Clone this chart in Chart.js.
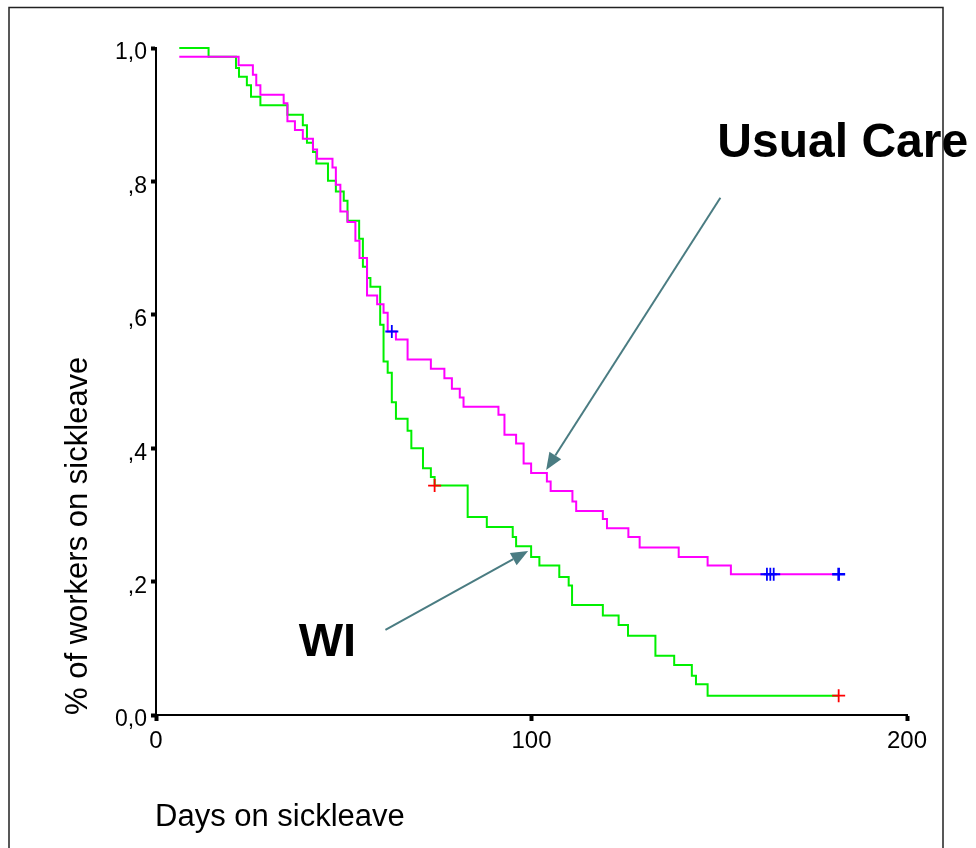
<!DOCTYPE html>
<html>
<head>
<meta charset="utf-8">
<script src="https://cdn.jsdelivr.net/npm/chart.js@4.4.1/dist/chart.umd.min.js"></script>
<style>
html,body{margin:0;padding:0;background:#fff;}
#wrap{position:relative;width:976px;height:848px;}
</style>
</head>
<body>
<div id="wrap"><canvas id="c" width="976" height="848"></canvas></div>
<script>
// Kaplan-Meier steps (day of event, survival after event)
const wiDays = [6.2, 14.0, 21.3, 22.1, 24.2, 25.3, 27.8, 35.0, 39.1, 40.2, 41.8, 42.7, 45.8, 47.9, 50.0, 51.0, 54.1, 55.1, 56.2, 57.1, 59.7, 60.6, 61.7, 62.8, 63.9, 67.0, 68.0, 71.1, 73.2, 74.2, 83.0, 88.1, 95.0, 95.9, 99.9, 102.1, 107.4, 109.9, 110.8, 119.0, 123.2, 125.7, 133.0, 138.0, 142.7, 143.8, 146.9, 181.8];
const wiSurv = [1.000, 0.987, 0.970, 0.957, 0.944, 0.927, 0.914, 0.900, 0.884, 0.858, 0.844, 0.827, 0.801, 0.785, 0.771, 0.741, 0.714, 0.672, 0.655, 0.642, 0.585, 0.530, 0.513, 0.469, 0.444, 0.426, 0.400, 0.370, 0.357, 0.344, 0.297, 0.282, 0.267, 0.253, 0.237, 0.224, 0.207, 0.194, 0.165, 0.149, 0.135, 0.119, 0.089, 0.075, 0.059, 0.046, 0.029, 0.029];
const ucDays = [6.2, 22.0, 25.8, 26.7, 27.8, 34.0, 35.0, 37.0, 39.1, 41.8, 42.9, 47.0, 47.9, 49.1, 51.0, 53.1, 54.2, 56.2, 58.9, 60.6, 61.7, 63.9, 67.0, 73.2, 76.8, 78.8, 80.9, 81.9, 91.2, 92.8, 95.9, 97.9, 99.9, 104.1, 105.1, 110.9, 111.9, 119.0, 120.1, 125.8, 128.8, 139.2, 146.9, 153.1, 181.8];
const ucSurv = [0.987, 0.974, 0.960, 0.944, 0.930, 0.917, 0.890, 0.877, 0.864, 0.848, 0.834, 0.821, 0.795, 0.755, 0.739, 0.711, 0.685, 0.629, 0.616, 0.603, 0.575, 0.563, 0.533, 0.519, 0.505, 0.489, 0.476, 0.462, 0.450, 0.420, 0.407, 0.377, 0.363, 0.350, 0.336, 0.320, 0.306, 0.294, 0.280, 0.267, 0.251, 0.237, 0.224, 0.211, 0.211];
// censored observations
const ucCensorDays = [62.8, 162.7, 163.6, 164.5, 181.8];
const ucCensorSurv = [0.575, 0.211, 0.211, 0.211, 0.211];
const wiCensorDays = [74.2, 181.8];
const wiCensorSurv = [0.344, 0.029];
// axis ticks
const xTicks = [0, 100, 200];
const yTicks = [0, 0.2, 0.4, 0.6, 0.8, 1.0];
const yTickLabels = {0: '0,0', 0.2: ',2', 0.4: ',4', 0.6: ',6', 0.8: ',8', 1: '1,0'};
// annotations (data coordinates)
const ucLabel = {text: 'Usual Care', x: 149.5, y: 0.8365};
const wiLabel = {text: 'WI', x: 38.0, y: 0.0885};
const ucArrow = {from: [150.3, 0.7755], to: [103.9, 0.3675]};
const wiArrow = {from: [61.1, 0.1275], to: [99.1, 0.246]};
const xTitle = 'Days on sickleave';
const yTitle = '% of workers on sickleave';

const FONT = '"Liberation Sans", Arial, Helvetica, sans-serif';
const pts = (xs, ys) => xs.map((x, i) => ({x: x, y: ys[i]}));

const decor = {
  id: 'decor',
  beforeDraw(chart) {
    const ctx = chart.ctx;
    ctx.save();
    ctx.fillStyle = '#fff';
    ctx.fillRect(0, 0, chart.width, chart.height);
    ctx.strokeStyle = '#222';
    ctx.lineWidth = 1.5;
    ctx.beginPath();
    ctx.moveTo(9, 860);
    ctx.lineTo(9, 7.5);
    ctx.lineTo(943, 7.5);
    ctx.lineTo(943, 860);
    ctx.stroke();
    ctx.restore();
  },
  afterDraw(chart) {
    const ctx = chart.ctx;
    const xs = chart.scales.x, ys = chart.scales.y;
    ctx.save();
    // arrows
    const arrow = (a) => {
      const x1 = xs.getPixelForValue(a.from[0]), y1 = ys.getPixelForValue(a.from[1]);
      const x2 = xs.getPixelForValue(a.to[0]), y2 = ys.getPixelForValue(a.to[1]);
      const ang = Math.atan2(y2 - y1, x2 - x1);
      const L = 17, W = 7;
      const bx = x2 - L * Math.cos(ang), by = y2 - L * Math.sin(ang);
      ctx.strokeStyle = '#4a7c82';
      ctx.fillStyle = '#4a7c82';
      ctx.lineWidth = 2;
      ctx.beginPath();
      ctx.moveTo(x1, y1);
      ctx.lineTo(bx, by);
      ctx.stroke();
      ctx.beginPath();
      ctx.moveTo(x2, y2);
      ctx.lineTo(bx + W * Math.sin(ang), by - W * Math.cos(ang));
      ctx.lineTo(bx - W * Math.sin(ang), by + W * Math.cos(ang));
      ctx.closePath();
      ctx.fill();
    };
    arrow(ucArrow);
    arrow(wiArrow);
    // labels
    ctx.fillStyle = '#000';
    ctx.textBaseline = 'alphabetic';
    ctx.textAlign = 'left';
    ctx.font = 'bold 48px ' + FONT;
    ctx.fillText(ucLabel.text, xs.getPixelForValue(ucLabel.x), ys.getPixelForValue(ucLabel.y));
    ctx.font = 'bold 47px ' + FONT;
    ctx.fillText(wiLabel.text, xs.getPixelForValue(wiLabel.x), ys.getPixelForValue(wiLabel.y));
    // axis titles
    ctx.font = '31px ' + FONT;
    ctx.fillText(xTitle, xs.left - 1, 826);
    ctx.translate(87, ys.bottom);
    ctx.rotate(-Math.PI / 2);
    ctx.fillText(yTitle, 0, 0);
    ctx.restore();
  }
};

const lineCommon = {stepped: true, pointRadius: 0, borderWidth: 2, fill: false, clip: false, order: 2};
const crossCommon = {showLine: false, pointStyle: 'cross', pointRadius: 6.5, pointHoverRadius: 6.5, clip: false, order: 1};

new Chart(document.getElementById('c'), {
  type: 'scatter',
  data: {
    datasets: [
      Object.assign({label: 'Usual Care', data: pts(ucDays, ucSurv), showLine: true, borderColor: '#ff00ff'}, lineCommon),
      Object.assign({label: 'WI', data: pts(wiDays, wiSurv), showLine: true, borderColor: '#00f000'}, lineCommon),
      Object.assign({label: 'Usual Care censored', data: pts(ucCensorDays, ucCensorSurv), borderColor: '#0000ff', pointBorderWidth: [1.8, 1.8, 1.8, 1.8, 2.6]}, crossCommon),
      Object.assign({label: 'WI censored', data: pts(wiCensorDays, wiCensorSurv), borderColor: '#ff0000', pointBorderWidth: 1.8}, crossCommon)
    ]
  },
  options: {
    responsive: false,
    animation: false,
    events: [],
    layout: {padding: {left: 0, right: 69, top: 48, bottom: 0}},
    plugins: {legend: {display: false}, tooltip: {enabled: false}, title: {display: false}},
    scales: {
      x: {
        type: 'linear', min: 0, max: 200,
        afterBuildTicks(s) { s.ticks = xTicks.map(v => ({value: v})); },
        afterFit(s) { s.height = 133; },
        border: {display: true, color: '#000', width: 2},
        grid: {display: true, drawOnChartArea: false, drawTicks: true, tickLength: 6, tickWidth: 4, tickColor: '#000'},
        ticks: {color: '#000', font: {family: FONT, size: 24}, padding: 6, maxRotation: 0}
      },
      y: {
        type: 'linear', min: 0, max: 1,
        afterBuildTicks(s) { s.ticks = yTicks.map(v => ({value: v})); },
        afterFit(s) { s.width = 156; },
        border: {display: true, color: '#000', width: 2},
        grid: {display: true, drawOnChartArea: false, drawTicks: true, tickLength: 5, tickWidth: 4, tickColor: '#000'},
        ticks: {color: '#000', font: {family: FONT, size: 23}, padding: 4, labelOffset: 5,
          callback: (v) => yTickLabels[Math.round(v * 10) / 10]}
      }
    }
  },
  plugins: [decor]
});
</script>
</body>
</html>
